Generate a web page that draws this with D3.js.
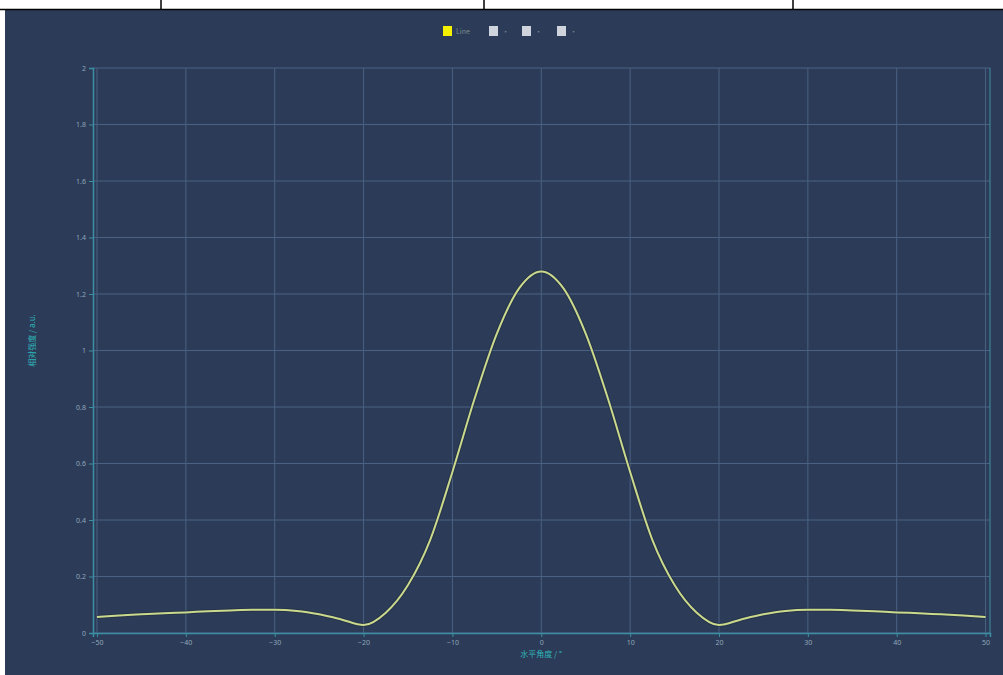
<!DOCTYPE html>
<html>
<head>
<meta charset="utf-8">
<script src="https://cdn.jsdelivr.net/npm/d3@7"></script>
<style>
  body { margin: 0; background: #ffffff; font-family: "Noto Sans CJK SC", "Noto Sans", sans-serif; }
</style>
</head>
<body>
<div id="chart"></div>
<script>
// Data
var angles = [-50, -47.5, -45, -42.5, -40, -37.5, -35, -32.5, -30, -27.5, -25, -22.5, -20, -17.5, -15, -12.5, -10, -7.5, -5, -2.5,
  0, 2.5, 5, 7.5, 10, 12.5, 15, 17.5, 20, 22.5, 25, 27.5, 30, 32.5, 35, 37.5, 40, 42.5, 45, 47.5, 50];
var values = [0.057, 0.062, 0.066, 0.070, 0.073, 0.077, 0.080, 0.082, 0.082, 0.078, 0.066, 0.048, 0.028, 0.072, 0.17, 0.33, 0.57, 0.83, 1.06, 1.22,
  1.28, 1.22, 1.06, 0.83, 0.57, 0.33, 0.17, 0.072, 0.028, 0.048, 0.066, 0.078, 0.082, 0.082, 0.080, 0.077, 0.073, 0.070, 0.066, 0.062, 0.057];
var xTicks = [-50, -40, -30, -20, -10, 0, 10, 20, 30, 40, 50];
var yTicks = [0, 0.2, 0.4, 0.6, 0.8, 1, 1.2, 1.4, 1.6, 1.8, 2];
var legendNames = ["Line", "·", "·", "·"];
var legendColors = ["#f5f000", "#cfd4dc", "#cfd4dc", "#cfd4dc"];

var svgWidth = 1003;
var svgHeight = 675;

var margin = { top: 68, right: 13, bottom: 42, left: 93 };
var chartWidth = svgWidth - margin.left - margin.right;
var chartHeight = svgHeight - margin.top - margin.bottom;

var svg = d3.select("#chart")
  .append("svg")
  .attr("width", svgWidth)
  .attr("height", svgHeight);

// white strip with table borders on top
svg.append("rect").attr("x", 0).attr("y", 0).attr("width", svgWidth).attr("height", svgHeight).attr("fill", "#ffffff");
svg.append("rect").attr("x", 5).attr("y", 10).attr("width", svgWidth - 5).attr("height", svgHeight - 10).attr("fill", "#2c3c58");
svg.append("line").attr("x1", 0).attr("x2", svgWidth).attr("y1", 9.5).attr("y2", 9.5).attr("stroke", "#000").attr("stroke-width", 1.5);
[161, 484, 793].forEach(function(x) {
  svg.append("line").attr("x1", x).attr("x2", x).attr("y1", 0).attr("y2", 10).attr("stroke", "#000").attr("stroke-width", 1.5);
});

var chartGroup = svg.append("g")
  .attr("transform", `translate(${margin.left}, ${margin.top})`);

var xScale = d3.scaleLinear()
  .domain([-50.45, 50.5])
  .range([0, chartWidth]);

var yScale = d3.scaleLinear()
  .domain([0, 2])
  .range([chartHeight, 0]);

// grid lines
chartGroup.append("g")
  .selectAll("line")
  .data(yTicks)
  .enter()
  .append("line")
  .attr("x1", 0)
  .attr("x2", chartWidth)
  .attr("y1", d => yScale(d))
  .attr("y2", d => yScale(d))
  .attr("stroke", "#4a6283")
  .attr("stroke-width", 1);

chartGroup.append("g")
  .selectAll("line")
  .data(xTicks)
  .enter()
  .append("line")
  .attr("x1", d => xScale(d))
  .attr("x2", d => xScale(d))
  .attr("y1", 0)
  .attr("y2", chartHeight)
  .attr("stroke", "#4a6283")
  .attr("stroke-width", 1);

// frame on right and top
chartGroup.append("line")
  .attr("x1", chartWidth).attr("x2", chartWidth)
  .attr("y1", 0).attr("y2", chartHeight)
  .attr("stroke", "#3c8ea2").attr("stroke-width", 1);

// axes
var bottomAxis = d3.axisBottom(xScale).tickValues(xTicks).tickSize(4).tickFormat(d3.format("d"));
var leftAxis = d3.axisLeft(yScale).tickValues(yTicks).tickSize(4).tickFormat(d => d);

var xAxis = chartGroup.append("g")
  .attr("transform", `translate(0, ${chartHeight})`)
  .call(bottomAxis);

var yAxis = chartGroup.append("g")
  .call(leftAxis);

[xAxis, yAxis].forEach(function(ax) {
  ax.select(".domain").attr("stroke", "#3c8ea2").attr("stroke-width", 1.5);
  ax.selectAll(".tick line").attr("stroke", "#3c8ea2");
  ax.selectAll(".tick text")
    .attr("fill", "#8fa6b8")
    .attr("font-size", 7)
    .attr("font-family", "Noto Sans, sans-serif");
});

// curve
var line = d3.line()
  .x((d, i) => xScale(angles[i]))
  .y(d => yScale(d))
  .curve(d3.curveMonotoneX);

chartGroup.append("path")
  .datum(values)
  .attr("fill", "none")
  .attr("stroke", "#1d2a3c")
  .attr("stroke-width", 4)
  .attr("stroke-opacity", 0.5)
  .attr("d", line);

chartGroup.append("path")
  .datum(values)
  .attr("fill", "none")
  .attr("stroke", "#cbd98c")
  .attr("stroke-width", 2)
  .attr("d", line);

// axis titles
chartGroup.append("text")
  .attr("x", 448)
  .attr("y", chartHeight + 24)
  .attr("text-anchor", "middle")
  .attr("fill", "#2fb5b8")
  .attr("font-size", 8)
  .text("水平角度 / °");

chartGroup.append("text")
  .attr("transform", `translate(-58, ${yScale(1) - 10}) rotate(-90)`)
  .attr("text-anchor", "middle")
  .attr("fill", "#2fb5b8")
  .attr("font-size", 8)
  .text("相对强度 / a.u.");

// legend
var legendX = [443, 489, 522, 557];
var legend = svg.append("g");
legendNames.forEach(function(name, i) {
  legend.append("rect")
    .attr("x", legendX[i])
    .attr("y", 26)
    .attr("width", 9)
    .attr("height", 10)
    .attr("fill", legendColors[i]);
  legend.append("text")
    .attr("x", legendX[i] + 13)
    .attr("y", 34)
    .attr("fill", "#7f8c8d")
    .attr("font-size", 7)
    .text(name);
});
</script>
</body>
</html>
